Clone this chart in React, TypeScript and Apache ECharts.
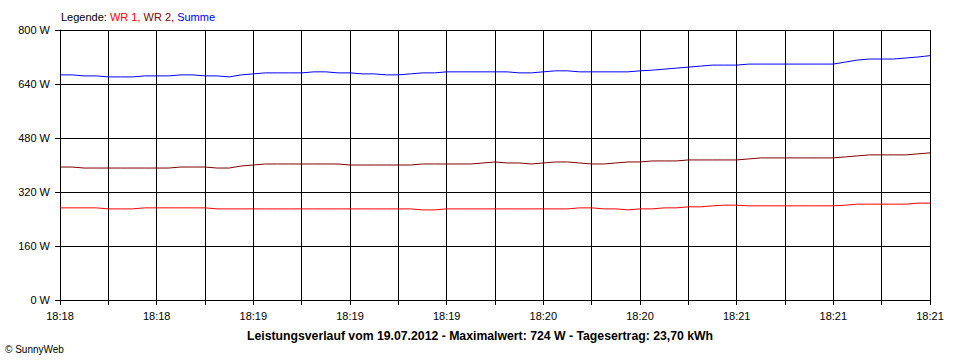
import React, { useEffect, useRef } from "react";
import * as echarts from "echarts";

const xLabels = ["18:18", "18:18", "18:19", "18:19", "18:19", "18:20", "18:20", "18:21", "18:21", "18:21"];
const samplesPerLabel = 8;
const samplesPerGrid = 4;

const wr1 = [
  273, 273, 273, 273, 270, 270, 270, 273, 273, 273, 273, 273, 273,
  270, 270, 270, 270, 270, 270, 270, 270, 270, 270, 270, 270, 270, 270, 270, 270, 270,
  267, 267,
  270, 270, 270, 270, 270, 270, 270, 270, 270, 270, 270,
  273, 273, 270, 270, 267, 270, 270, 273, 273, 276, 276, 279, 281, 281,
  279, 279, 279, 279, 279, 279, 279, 279,
  281, 284, 284, 284, 284, 284, 287, 287,
];

const wr2 = [
  394, 394, 391, 391, 391, 391, 391, 391, 391, 391,
  394, 394, 394, 391, 391, 397, 400,
  403, 403, 403, 403, 403, 403, 403,
  400, 400, 400, 400, 400, 400,
  403, 403, 403, 403, 403,
  406, 409, 406, 406, 403, 406, 409, 409, 406, 403, 403, 406, 409, 409, 412, 412, 412,
  415, 415, 415, 415, 415, 418,
  421, 421, 421, 421, 421, 421, 421,
  424, 427, 430, 430, 430, 430, 433, 436,
];

const summe = [
  667, 667, 664, 664, 661, 661, 661, 664, 664, 664,
  667, 667, 664, 664, 661, 667, 670, 673, 673, 673,
  673, 676, 676, 673, 673, 670, 670, 667, 667, 670,
  673, 673, 676, 676, 676, 676, 676, 676, 673, 673,
  676, 679, 679, 676, 676, 676, 676, 676, 679, 681,
  684, 687, 690, 693, 696, 696, 696, 699, 699, 699,
  699, 699, 699, 699, 699, 705, 711, 714, 714, 714,
  717, 720, 724,
];

const yTicks = { min: 0, max: 800, interval: 160 };
const footerText = "Leistungsverlauf vom 19.07.2012 - Maximalwert: 724 W - Tagesertrag: 23,70 kWh";

const FONT = "'Liberation Sans', Arial, sans-serif";

export default function App() {
  const ref = useRef<HTMLDivElement>(null);
  useEffect(() => {
    if (!ref.current) return;
    const chart = echarts.init(ref.current, null, { renderer: "svg" });
    const categories = summe.map((_, i) => String(i));
    const lineSeries = (name: string, data: number[], color: string) => ({
      name,
      type: "line",
      data,
      showSymbol: false,
      symbol: "none",
      lineStyle: { color, width: 1 },
      itemStyle: { color },
      z: 3,
    });
    const rt = (color: string) => ({ color, fontSize: 11, fontFamily: FONT, fontWeight: "normal" });
    chart.setOption({
      animation: false,
      backgroundColor: "#ffffff",
      textStyle: { fontFamily: FONT },
      title: [
        {
          left: 61,
          top: 11,
          padding: 0,
          text: "{k|Legende: }{r|WR 1, }{d|WR 2, }{b|Summe}",
          textStyle: {
            fontFamily: FONT,
            fontSize: 11,
            fontWeight: "normal",
            rich: {
              k: rt("#000000"),
              r: rt("#ff0000"),
              d: rt("#800000"),
              b: rt("#0000ff"),
            },
          },
        },
        {
          left: "center",
          top: 330,
          padding: 0,
          text: footerText,
          textStyle: { fontFamily: FONT, fontSize: 12.25, fontWeight: "bold", color: "#000" },
        },
        {
          left: 5,
          top: 344,
          padding: 0,
          text: "© SunnyWeb",
          textStyle: { fontFamily: FONT, fontSize: 10, fontWeight: "normal", color: "#000" },
        },
      ],
      grid: { left: 60, right: 30, top: 30, bottom: 60, containLabel: false },
      xAxis: {
        type: "category",
        data: categories,
        boundaryGap: false,
        axisLine: { show: true, lineStyle: { color: "#000", width: 1 } },
        axisTick: { show: true, interval: samplesPerGrid - 1, length: 5, lineStyle: { color: "#000" } },
        axisLabel: {
          interval: samplesPerLabel - 1,
          margin: 10,
          color: "#000",
          fontSize: 11,
          fontFamily: FONT,
          formatter: (_v: string, index: number) => xLabels[index / samplesPerLabel] ?? "",
        },
        splitLine: { show: true, interval: samplesPerGrid - 1, lineStyle: { color: "#000", width: 1 } },
      },
      yAxis: {
        type: "value",
        min: yTicks.min,
        max: yTicks.max,
        interval: yTicks.interval,
        axisLine: { show: true, lineStyle: { color: "#000", width: 1 } },
        axisTick: { show: true, length: 5, lineStyle: { color: "#000" } },
        axisLabel: { color: "#000", fontSize: 11, fontFamily: FONT, margin: 10, formatter: "{value} W" },
        splitLine: { show: true, lineStyle: { color: "#000", width: 1 } },
      },
      series: [
        lineSeries("WR 1", wr1, "#ff0000"),
        lineSeries("WR 2", wr2, "#800000"),
        lineSeries("Summe", summe, "#0000ff"),
      ],
    });
    return () => chart.dispose();
  }, []);
  return (
    <div
      ref={ref}
      style={{ position: "fixed", left: 0, top: 0, width: 960, height: 360, background: "#fff" }}
    />
  );
}
